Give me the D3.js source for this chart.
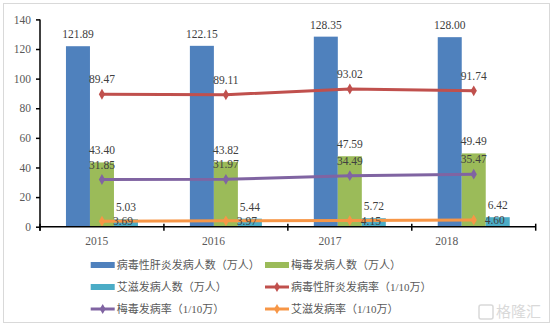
<!DOCTYPE html>
<html><head><meta charset="utf-8">
<script src="https://cdn.jsdelivr.net/npm/d3@7"></script>
<style>
body{margin:0;background:#fff;}
svg{display:block;}
</style></head>
<body><svg id="c" width="554" height="328"></svg>
<script>
const years = ["2015","2016","2017","2018"];
const hepatitisCases = [121.89,122.15,128.35,128.00];
const syphilisCases = [43.40,43.82,47.59,49.49];
const aidsCases = [5.03,5.44,5.72,6.42];
const hepatitisRate = [89.47,89.11,93.02,91.74];
const syphilisRate = [31.85,31.97,34.49,35.47];
const aidsRate = [3.69,3.97,4.15,4.60];
const yTicks = [0,20,40,60,80,100,120,140];

const barSeries = [
  {name:"病毒性肝炎发病人数（万人）", values:hepatitisCases, color:"#4F81BD"},
  {name:"梅毒发病人数（万人）", values:syphilisCases, color:"#9BBB59"},
  {name:"艾滋发病人数（万人）", values:aidsCases, color:"#4BACC6"}
];
const lineSeries = [
  {name:"病毒性肝炎发病率（1/10万）", values:hepatitisRate, color:"#C0504D", lab:"above"},
  {name:"梅毒发病率（1/10万）", values:syphilisRate, color:"#8064A2", lab:"above"},
  {name:"艾滋发病率（1/10万）", values:aidsRate, color:"#F79646", lab:"right"}
];

const svg = d3.select("#c");
const serif = "'Liberation Serif','Times New Roman',serif";
const cjk = "'Liberation Serif','Noto Sans CJK SC',serif";

// outer frame
svg.append("rect").attr("x",3.5).attr("y",3.5).attr("width",546).attr("height",319)
  .attr("fill","#fff").attr("stroke","#d9d9d9").attr("stroke-width",1);

const L=40, R=535.7, T=19.4, B=226.7;
const x = d3.scaleBand().domain(years).range([L,R]).paddingInner(0).paddingOuter(0);
const y = d3.scaleLinear().domain([0,140]).range([B,T]);
const xLab = d3.scaleBand().domain(years).range([38.4,505]);
const groupW = 72;
const xs = d3.scaleBand().domain(d3.range(barSeries.length)).range([0,groupW]);

// bars
barSeries.forEach((s,si)=>{
  const g = svg.append("g");
  years.forEach((yr,i)=>{
    const bx = x(yr)+x.bandwidth()/2-groupW/2+xs(si);
    g.append("rect").attr("x",bx).attr("y",y(s.values[i]))
      .attr("width",xs.bandwidth()).attr("height",B-y(s.values[i])).attr("fill",s.color);
  });
});

// lines
const cx = d=>x(d)+x.bandwidth()/2;
lineSeries.forEach(s=>{
  const line = d3.line().x((d,i)=>cx(years[i])).y(d=>y(d));
  svg.append("path").datum(s.values).attr("d",line).attr("fill","none")
    .attr("stroke",s.color).attr("stroke-width",3).attr("stroke-linejoin","round");
  s.values.forEach((v,i)=>{
    svg.append("path").attr("d",d3.symbol(d3.symbolDiamond,34)())
      .attr("transform",`translate(${cx(years[i])},${y(v)})`).attr("fill",s.color);
  });
});

// axes
const yAxis = d3.axisLeft(y).tickValues(yTicks).tickSize(4).tickPadding(5);
const ya = svg.append("g").attr("transform",`translate(${L},0)`).call(yAxis);
ya.select(".domain").attr("stroke","#000").attr("stroke-width",1.5).attr("d",`M0,${T}V${B+4}`);
ya.selectAll(".tick line").attr("stroke","#000").attr("stroke-width",1.5);
ya.selectAll("text").attr("fill","#595959").style("font-family",serif).style("font-size","11.5px");

const xa = svg.append("g").attr("transform",`translate(0,${B})`);
xa.append("line").attr("x1",L).attr("x2",R).attr("y1",0).attr("y2",0).attr("stroke","#000").attr("stroke-width",1.5);
years.concat(["end"]).forEach((yr,i)=>{
  const px = i<years.length ? x(yr) : R;
  xa.append("line").attr("x1",px).attr("x2",px).attr("y1",-3).attr("y2",4).attr("stroke","#000").attr("stroke-width",1.5);
});
years.forEach(yr=>{
  xa.append("text").attr("x",xLab(yr)+xLab.bandwidth()/2).attr("y",18).attr("text-anchor","middle")
    .attr("fill","#595959").style("font-family",serif).style("font-size","11.5px").text(yr);
});

// data labels
const lblStyle = sel=>sel.attr("fill","#404040").style("font-family",serif).style("font-size","11.5px").attr("text-anchor","middle");
barSeries.forEach((s,si)=>{
  years.forEach((yr,i)=>{
    const bx = x(yr)+x.bandwidth()/2-groupW/2+xs(si)+xs.bandwidth()/2;
    svg.append("text").attr("x",bx).attr("y",y(s.values[i])-8).call(lblStyle).text(s.values[i].toFixed(2));
  });
});
lineSeries.forEach(s=>{
  s.values.forEach((v,i)=>{
    const t = svg.append("text").call(lblStyle);
    if(s.lab==="above") t.attr("x",cx(years[i])).attr("y",y(v)-11);
    else t.attr("x",cx(years[i])+21).attr("y",y(v)+4);
    t.text(v.toFixed(2));
  });
});

// legend
const legItems = [barSeries[0],barSeries[1],barSeries[2],lineSeries[0],lineSeries[1],lineSeries[2]];
const legPos = [[90.7,265],[265,265],[90.7,287],[265,287],[90.7,309],[265,309]];
legItems.forEach((s,i)=>{
  const [lx,ly] = legPos[i];
  const g = svg.append("g");
  if(i<3){
    g.append("rect").attr("x",lx).attr("y",ly-3).attr("width",24).attr("height",6).attr("fill",s.color);
  } else {
    g.append("line").attr("x1",lx).attr("x2",lx+24).attr("y1",ly).attr("y2",ly).attr("stroke",s.color).attr("stroke-width",3);
    g.append("path").attr("d",d3.symbol(d3.symbolDiamond,30)()).attr("transform",`translate(${lx+12},${ly})`).attr("fill",s.color);
  }
  g.append("text").attr("x",lx+26).attr("y",ly+4).attr("fill","#595959")
    .style("font-family",cjk).style("font-size","11px").text(s.name);
});

// watermark
const wm = svg.append("g").attr("opacity",0.55);
wm.append("rect").attr("x",479).attr("y",305).attr("width",14).attr("height",14).attr("rx",2)
  .attr("fill","none").attr("stroke","#bbb").attr("stroke-width",1.5);
wm.append("text").attr("x",496).attr("y",317).attr("fill","#bbb").style("font-family","'Noto Sans CJK SC',sans-serif")
  .style("font-size","15px").text("格隆汇");
</script>
</body></html>
